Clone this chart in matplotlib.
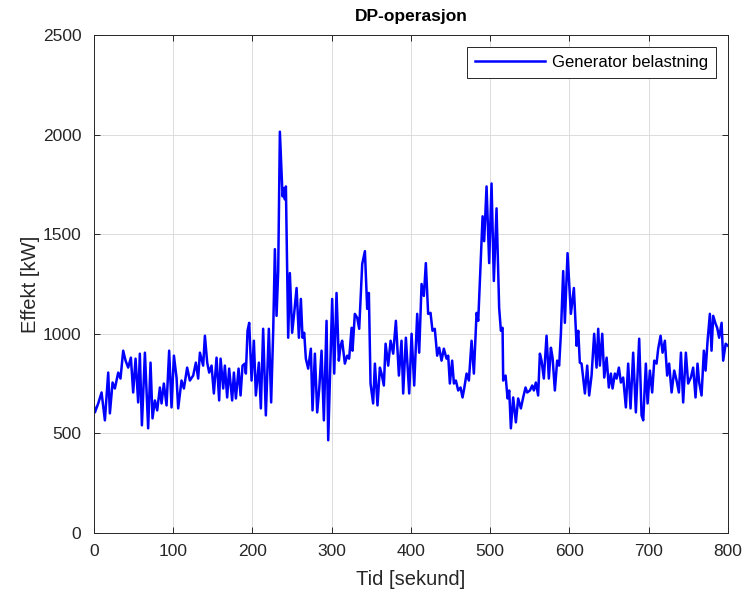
import numpy as np
import matplotlib.pyplot as plt

plt.rcParams['font.family'] = ['Liberation Sans', 'DejaVu Sans']

# tid [s] og generatorbelastning [kW], lest av figuren
tid = [0, 1.3, 5.5, 9.7, 13.9, 18.1, 20.2, 23.6, 26.5, 30.7,
       33.6, 37.0, 40.0, 43.3, 46.7, 49.6, 52.6, 55.9, 58.0, 60.6,
       64.4, 68.5, 71.5, 74.0, 77.0, 79.9, 83.3, 85.4, 88.3, 91.7,
       95.0, 98.0, 101.0, 104.3, 106.4, 110.6, 113.6, 117.7, 121.1, 125.3,
       128.7, 131.6, 133.8, 137.9, 140.1, 143.0, 145.5, 148.5, 151.4, 154.8,
       158.1, 159.9, 163.2, 165.3, 168.2, 170.7, 174.5, 176.7, 179.2, 182.6,
       185.1, 187.6, 190.5, 191.8, 193.9, 196.0, 199.0, 201.9, 204.4, 208.2,
       210.7, 213.6, 217.0, 220.8, 223.7, 226.3, 228.4, 230.5, 232.6, 234.7,
       238.1, 239.7, 241.0, 242.3, 245.2, 247.3, 250.2, 252.8, 255.8, 258.7,
       261.2, 263.3, 265.4, 267.5, 270.4, 273.8, 275.9, 278.9, 281.8, 284.4,
       287.3, 290.2, 293.6, 295.7, 300.7, 303.3, 306.2, 309.1, 311.3, 313.3,
       316.7, 319.6, 322.1, 325.2, 326.4, 329.3, 332.3, 334.8, 338.6, 342.0,
       344.9, 347.0, 349.1, 352.4, 354.6, 357.9, 360.9, 363.0, 365.9, 368.1,
       371.4, 374.4, 377.7, 381.1, 384.9, 388.2, 390.3, 393.7, 397.9, 400.9,
       404.2, 408.0, 410.5, 413.5, 416.4, 418.9, 421.8, 424.8, 427.3, 430.2,
       433.2, 435.7, 438.7, 441.6, 445.0, 447.1, 449.2, 452.1, 454.3, 456.8,
       459.7, 462.7, 465.2, 467.3, 470.3, 473.2, 476.6, 479.5, 482.9, 485.0,
       487.1, 490.5, 492.5, 495.5, 498.8, 501.8, 504.7, 508.1, 511.4, 513.6,
       515.7, 516.5, 519.5, 522.0, 524.1, 526.2, 529.1, 532.5, 535.4, 538.8,
       541.7, 544.7, 546.8, 550.2, 553.1, 555.2, 557.7, 560.6, 562.8, 564.9,
       567.8, 571.2, 574.1, 576.7, 578.8, 581.7, 584.6, 587.1, 589.3, 592.2,
       594.3, 597.7, 601.9, 605.7, 609.1, 611.2, 613.2, 615.4, 619.6, 622.5,
       625.0, 628.0, 631.3, 634.3, 636.4, 638.5, 641.5, 644.0, 647.0, 649.8,
       652.4, 654.5, 657.4, 659.6, 662.5, 665.0, 667.9, 671.3, 674.2, 677.2,
       680.5, 683.9, 688.1, 691.1, 693.2, 696.5, 698.7, 701.6, 704.5, 707.1,
       710.0, 712.1, 715.1, 717.6, 720.5, 723.4, 725.9, 729.0, 732.3, 735.3,
       738.2, 740.8, 743.6, 747.0, 749.9, 753.3, 756.2, 759.2, 761.7, 763.8,
       766.8, 769.7, 771.9, 774.4, 777.3, 779.4, 781.5, 784.5, 786.5, 789.0,
       792.1, 794.1, 797.2, 800.0]

effekt = [640, 605, 650, 705, 565, 805, 600, 755, 725, 805,
          775, 915, 865, 830, 880, 705, 875, 655, 900, 540,
          905, 525, 855, 575, 665, 615, 730, 650, 750, 640,
          915, 630, 890, 780, 625, 765, 725, 830, 765, 790,
          855, 775, 905, 840, 990, 855, 805, 840, 700, 880,
          665, 875, 725, 840, 680, 825, 665, 805, 675, 825,
          690, 840, 850, 800, 1015, 1055, 765, 965, 690, 855,
          625, 1025, 590, 1025, 655, 1015, 1425, 1090, 1315, 2015,
          1690, 1730, 1675, 1740, 980, 1305, 1005, 1105, 1230, 980,
          1175, 980, 1005, 875, 825, 925, 615, 900, 605, 725,
          915, 565, 1065, 465, 1175, 800, 1205, 865, 940, 965,
          850, 890, 875, 1030, 915, 1100, 1080, 1025, 1350, 1415,
          1125, 1205, 750, 650, 850, 640, 830, 800, 740, 950,
          840, 965, 900, 1065, 790, 965, 700, 980, 700, 1000,
          740, 1100, 905, 1250, 1190, 1355, 1100, 1105, 1015, 1025,
          890, 930, 865, 925, 875, 890, 750, 865, 750, 765,
          715, 730, 680, 725, 800, 765, 965, 800, 1105, 1065,
          1265, 1590, 1465, 1740, 1355, 1755, 1265, 1630, 1130, 1015,
          1030, 765, 790, 675, 715, 525, 680, 555, 675, 625,
          680, 730, 705, 715, 740, 715, 755, 690, 900, 865,
          775, 990, 775, 930, 880, 715, 865, 840, 1000, 1315,
          1055, 1405, 1100, 1230, 940, 1015, 855, 850, 700, 840,
          690, 790, 1000, 830, 1025, 840, 1000, 780, 880, 730,
          800, 725, 800, 775, 830, 755, 780, 630, 850, 625,
          905, 605, 975, 590, 565, 850, 650, 815, 705, 865,
          850, 925, 990, 905, 965, 790, 850, 705, 815, 765,
          705, 905, 655, 905, 750, 780, 830, 680, 850, 755,
          690, 915, 815, 965, 1100, 915, 1090, 1050, 1030, 980,
          1055, 865, 950, 940]

fig = plt.figure(figsize=(7.45, 5.96), dpi=100)
ax = fig.add_axes([0.126, 0.106, 0.851, 0.835])

ax.plot(tid, effekt, color=(0, 0, 1), linewidth=1.8, label='Generator belastning')

ax.set_xlim(0, 800)
ax.set_ylim(0, 2500)
ax.set_xticks(np.arange(0, 801, 100))
ax.set_yticks(np.arange(0, 2501, 500))
ax.grid(True, color='#dcdcdc', linewidth=0.7)
ax.set_axisbelow(True)

ax.tick_params(direction='in', top=True, right=True, labelsize=12.5,
               colors='#262626', length=4, width=0.7)
ax.tick_params(axis='x', pad=8)
ax.tick_params(axis='y', pad=9)
for s in ax.spines.values():
    s.set_color('#262626')
    s.set_linewidth(0.7)

ax.set_xlabel('Tid [sekund]', fontsize=14.5, color='#262626', labelpad=8)
ax.set_ylabel('Effekt [kW]', fontsize=14.5, color='#262626', labelpad=2)
ax.set_title('DP-operasjon', fontsize=12.5, fontweight='bold', pad=10)

leg = ax.legend(loc='upper right', fontsize=12, fancybox=False,
                framealpha=1, edgecolor='#262626', handlelength=4.2,
                borderaxespad=0.7, handletextpad=0.4, borderpad=0.5)
leg.get_frame().set_linewidth(0.7)

plt.savefig('out.png', dpi=100)
